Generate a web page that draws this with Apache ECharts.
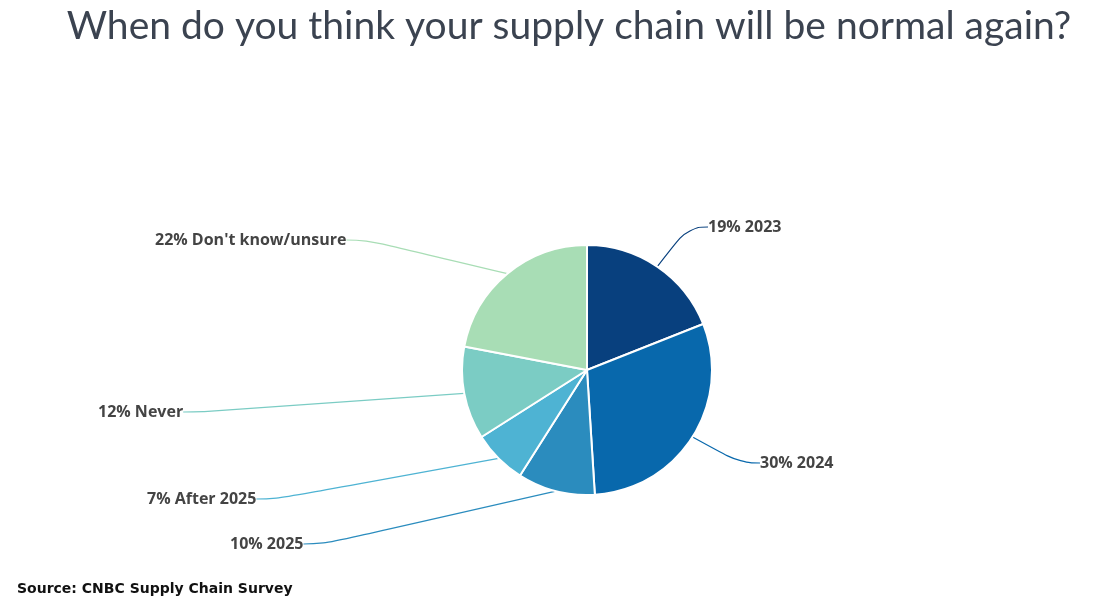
<!DOCTYPE html>
<html><head><meta charset="utf-8">
<script src="https://cdn.jsdelivr.net/npm/echarts@6/dist/echarts.min.js"></script>
<style>html,body{margin:0;background:#fff}#c{width:1106px;height:601px}</style>
</head><body><div id="c"></div>
<script>
var categories = ['2023', '2024', '2025', 'After 2025', 'Never', "Don't know/unsure"];
var values = [19, 30, 10, 7, 12, 22];
var colors = ['#08407e', '#0868ac', '#2b8cbe', '#4eb3d3', '#7bccc4', '#a8ddb5'];
// where each label text sits (left edge, vertical middle)
var labelSpots = [[708, 227], [760, 463], [230, 544], [147, 499], [98, 412], [155, 240]];

var chart = echarts.init(document.getElementById('c'));
chart.setOption({
  title: [{
    text: 'When do you think your supply chain will be normal again?',
    left: 564, top: 2, textAlign: 'center',
    textStyle: {fontFamily: 'Lato', fontSize: 39, fontWeight: 'normal', color: '#3b4350'}
  }, {
    text: 'Source: CNBC Supply Chain Survey',
    left: 12, top: 577,
    textStyle: {fontFamily: 'DejaVu Sans', fontSize: 14, fontWeight: 'bold', color: '#111'}
  }],
  series: [{
    type: 'pie',
    center: [587, 370],
    radius: [0, 125],
    startAngle: 90,
    color: colors,
    itemStyle: {borderColor: '#fff', borderWidth: 2},
    label: {
      formatter: function (p) { return p.value + '% ' + p.name; },
      fontFamily: 'Open Sans', fontSize: 16, fontWeight: 'bold', color: '#444'
    },
    labelLine: {show: true, length: 30, length2: 20, smooth: 0.5, lineStyle: {width: 1.2}},
    labelLayout: function (p) {
      var s = labelSpots[p.dataIndex];
      return {x: s[0], y: s[1], align: 'left', verticalAlign: 'middle'};
    },
    data: categories.map(function (c, i) { return {name: c, value: values[i]}; })
  }]
});
</script></body></html>
